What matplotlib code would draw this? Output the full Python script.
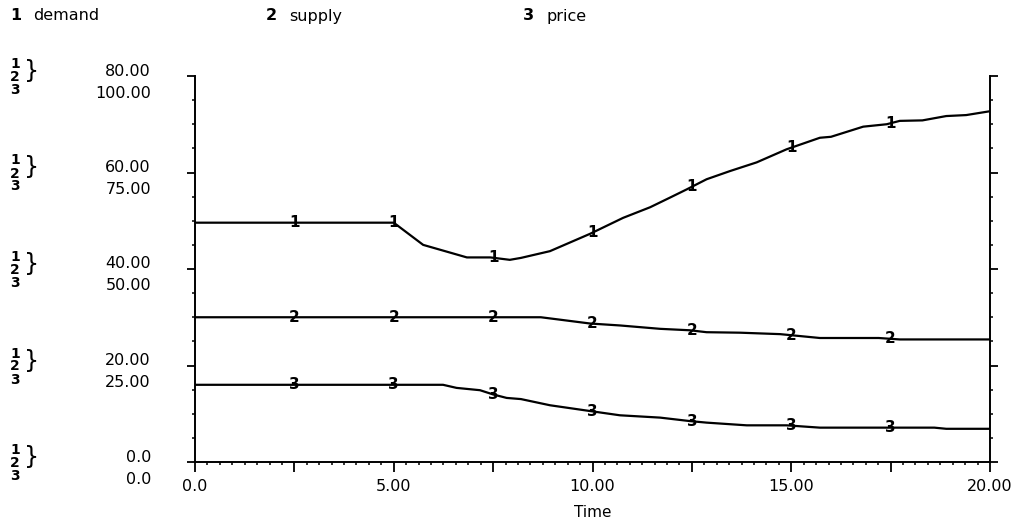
# =========================================================
#        DEMAND / SUPPLY / PRICE  -  STELLA STYLE PLOT
# =========================================================

import numpy as np
import matplotlib
matplotlib.use("Agg")
import matplotlib.pyplot as plt

# =========================================================
# DATA
# =========================================================

demand_t = [0.0, 5.0, 5.74, 6.84, 7.43, 7.92, 8.2, 8.93, 9.94, 10.77,
            11.45, 11.95, 12.37, 12.87, 13.46, 14.13, 14.88, 15.72,
            16.0, 16.81, 17.4, 17.73, 18.3, 18.9, 19.4, 20.0]
demand_v = [49.6, 49.6, 45.0, 42.4, 42.4, 41.9, 42.3, 43.7, 47.3, 50.6,
            52.8, 54.8, 56.5, 58.6, 60.3, 62.1, 64.8, 67.2,
            67.4, 69.5, 70.0, 70.7, 70.8, 71.7, 71.9, 72.7]

supply_t = [0.0, 8.7, 9.18, 9.94, 10.69, 11.7, 12.45, 12.87, 13.71,
            14.72, 15.72, 17.2, 17.73, 20.0]
supply_v = [30.0, 30.0, 29.5, 28.7, 28.3, 27.6, 27.3, 26.9, 26.8,
            26.5, 25.7, 25.7, 25.4, 25.4]

price_t = [0.0, 6.24, 6.58, 7.17, 7.5, 7.84, 8.2, 8.93, 9.94, 10.69,
           11.7, 12.45, 12.87, 13.88, 14.88, 15.72, 18.6, 18.9, 20.0]
price_v = [20.0, 20.0, 19.2, 18.6, 17.5, 16.6, 16.3, 14.7, 13.2, 12.1,
           11.5, 10.6, 10.2, 9.5, 9.5, 8.9, 8.9, 8.6, 8.6]

marker_times = [2.5, 5.0, 7.5, 10.0, 12.5, 15.0, 17.5]

x_ticks = [0.0, 5.0, 10.0, 15.0, 20.0]
x_tick_labels = ["0.0", "5.00", "10.00", "15.00", "20.00"]

y_ticks = [0, 20, 40, 60, 80]
y_labels_12 = ["0.0", "20.00", "40.00", "60.00", "80.00"]
y_labels_3 = ["0.0", "25.00", "50.00", "75.00", "100.00"]

series_names = ["demand", "supply", "price"]

# =========================================================
# FIGURE
# =========================================================

W, H = 1028, 526
L, R, B, T = 195, 990, 462, 76

fig = plt.figure(figsize=(W / 100, H / 100), dpi=100)
ax = fig.add_axes([L / W, 1 - B / H, (R - L) / W, (B - T) / H])

ax.set_xlim(0, 20)
ax.set_ylim(0, 80)

ax2 = ax.twinx()
ax2.set_ylim(0, 100)
ax2.axis("off")

LW = 1.6

ax.plot(demand_t, demand_v, color="black", lw=LW)
ax.plot(supply_t, supply_v, color="black", lw=LW)
ax2.plot(price_t, price_v, color="black", lw=LW)

# digit markers on the curves
for tm in marker_times:
    ax.text(tm, np.interp(tm, demand_t, demand_v), "1",
            ha="center", va="center", fontsize=11, fontweight="bold")
    ax.text(tm, np.interp(tm, supply_t, supply_v), "2",
            ha="center", va="center", fontsize=11, fontweight="bold")
    ax2.text(tm, np.interp(tm, price_t, price_v), "3",
             ha="center", va="center", fontsize=11, fontweight="bold")

# =========================================================
# AXES / TICKS
# =========================================================

ax.spines["top"].set_visible(False)
for side in ["left", "right", "bottom"]:
    ax.spines[side].set_linewidth(1.4)

major_x = np.arange(0, 20.01, 2.5)
labels_x = [x_tick_labels[x_ticks.index(t)] if t in x_ticks else ""
            for t in major_x]
ax.set_xticks(major_x)
ax.set_xticklabels(labels_x, fontsize=11.5)
ax.set_xticks(np.arange(0, 20.01, 2.5 / 8), minor=True)

ax.set_yticks(y_ticks)
ax.set_yticklabels([])
ax.set_yticks(np.arange(0, 80.01, 5), minor=True)

ax.tick_params(axis="x", which="major", direction="out", length=7,
               width=1.3, pad=5)
ax.tick_params(axis="x", which="minor", direction="out", length=2.5,
               width=1.1)
ax.tick_params(axis="y", which="major", direction="out", length=6,
               width=1.3, left=True, right=True)
ax.tick_params(axis="y", which="minor", direction="out", length=2.5,
               width=1.1, left=True, right=True)

ax.set_xlabel("Time", fontsize=11, labelpad=8)

# =========================================================
# LEFT SCALE LABELS (two scales + series keys)
# =========================================================

ytr = ax.get_yaxis_transform()


def put(x_px, v, dy_px, text, **kw):
    ax.annotate(text, xy=((x_px - L) / (R - L), v), xycoords=ytr,
                xytext=(0, -dy_px), textcoords="offset pixels",
                annotation_clip=False, **kw)


for v, lab12, lab3 in zip(y_ticks, y_labels_12, y_labels_3):
    put(151, v, -5, lab12, ha="right", va="center", fontsize=11.5)
    put(151, v, 17, lab3, ha="right", va="center", fontsize=11.5)
    put(15, v, -12, "1", ha="center", va="center", fontsize=10,
        fontweight="bold")
    put(15, v, 1, "2", ha="center", va="center", fontsize=10,
        fontweight="bold")
    put(15, v, 14, "3", ha="center", va="center", fontsize=10,
        fontweight="bold")
    put(32, v, -5, "}", ha="center", va="center", fontsize=17)

# =========================================================
# HEADER
# =========================================================

header_x = [10, 266, 523]
for i, (hx, name) in enumerate(zip(header_x, series_names)):
    fig.text(hx / W, 1 - 16 / H, str(i + 1), ha="left", va="center",
             fontsize=11.5, fontweight="bold")
    fig.text((hx + 23) / W, 1 - 16 / H, name, ha="left", va="center",
             fontsize=11.5)

fig.savefig("out.png", dpi=100)
